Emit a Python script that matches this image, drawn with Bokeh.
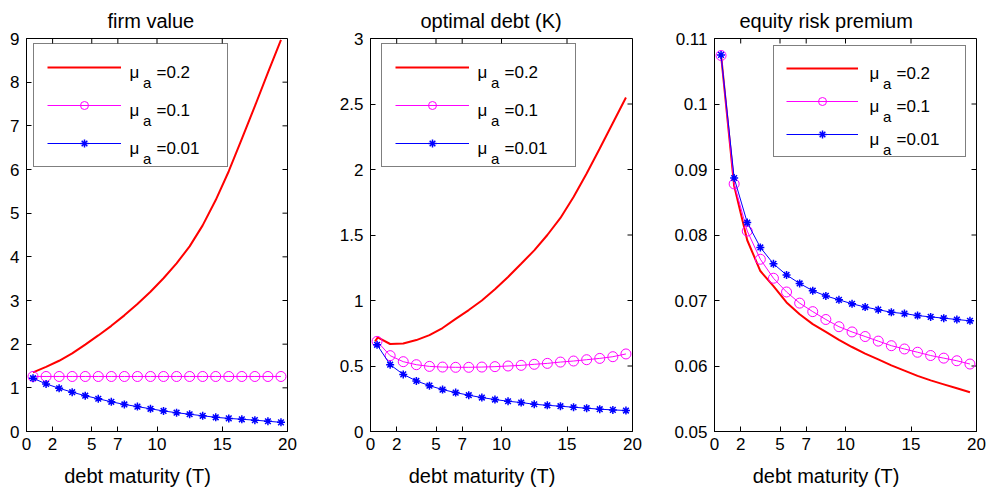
from bokeh.plotting import figure
from bokeh.models import (Range1d, FixedTicker, Legend, LegendItem,
                          NumeralTickFormatter)
from bokeh.layouts import row
from bokeh.core.properties import value
from bokeh.embed import file_html
from bokeh.resources import INLINE

FONT = "Liberation Sans"

# ---------------- data ----------------
T = [0.5, 1.5, 2.5, 3.5, 4.5, 5.5, 6.5, 7.5, 8.5, 9.5,
     10.5, 11.5, 12.5, 13.5, 14.5, 15.5, 16.5, 17.5, 18.5, 19.5]
x_ticks = [0, 2, 5, 7, 10, 15, 20]

# firm value
fv_red = [1.355, 1.48, 1.62, 1.79, 1.99, 2.20, 2.42, 2.66, 2.92, 3.20,
          3.51, 3.85, 4.24, 4.72, 5.30, 5.96, 6.70, 7.45, 8.22, 8.97]
fv_mag = [1.26, 1.26, 1.26, 1.26, 1.26, 1.26, 1.26, 1.26, 1.26, 1.26,
          1.26, 1.26, 1.26, 1.26, 1.26, 1.26, 1.26, 1.26, 1.26, 1.26]
fv_blue = [1.22, 1.09, 0.99, 0.90, 0.82, 0.75, 0.68, 0.62, 0.57, 0.52,
           0.47, 0.43, 0.395, 0.36, 0.325, 0.30, 0.28, 0.26, 0.235, 0.21]
fv_yticks = [0, 1, 2, 3, 4, 5, 6, 7, 8, 9]

# optimal debt (K)
od_red_T = [0.35, 0.55, 1.5, 2.5, 3.5, 4.5, 5.5, 6.5, 7.5, 8.5, 9.5,
            10.5, 11.5, 12.5, 13.5, 14.5, 15.5, 16.5, 17.5, 18.5, 19.5]
od_red = [0.688, 0.718, 0.668, 0.672, 0.698, 0.736, 0.79, 0.86, 0.927, 1.0, 1.086,
          1.18, 1.28, 1.383, 1.50, 1.63, 1.79, 1.97, 2.16, 2.355, 2.55]
od_mag = [0.688, 0.579, 0.533, 0.51, 0.497, 0.492, 0.49, 0.49, 0.492, 0.495,
          0.50, 0.505, 0.513, 0.52, 0.53, 0.538, 0.548, 0.558, 0.571, 0.592]
od_blue = [0.662, 0.51, 0.436, 0.386, 0.35, 0.32, 0.297, 0.277, 0.259, 0.244,
           0.231, 0.221, 0.208, 0.20, 0.193, 0.185, 0.178, 0.17, 0.165, 0.16]
od_yticks = [0, 0.5, 1, 1.5, 2, 2.5, 3]

# equity risk premium
er_red = [0.1075, 0.0875, 0.0792, 0.0745, 0.0722, 0.0697, 0.0679, 0.0664, 0.0652, 0.0640,
          0.0629, 0.0619, 0.0610, 0.0601, 0.0593, 0.0585, 0.0578, 0.0572, 0.0566, 0.0560]
er_mag = [0.1074, 0.0878, 0.0806, 0.0763, 0.0734, 0.0713, 0.0696, 0.0683, 0.0671, 0.0660,
          0.0652, 0.0645, 0.0638, 0.0631, 0.0626, 0.0621, 0.0616, 0.0612, 0.0608, 0.0603]
er_blue = [0.1075, 0.0887, 0.0819, 0.0781, 0.0756, 0.0739, 0.0726, 0.0715, 0.0707, 0.0701,
           0.0695, 0.0690, 0.0686, 0.0682, 0.0680, 0.0677, 0.0675, 0.0673, 0.0671, 0.0669]
er_yticks = [0.05, 0.06, 0.07, 0.08, 0.09, 0.10, 0.11]

legend_names = ["0.2", "0.1", "0.01"]
x_label = "debt maturity (T)"

RED, MAG, BLUE = "#ff0000", "#ff00ff", "#0000ff"
H = 493
TOP, BOTTOM = 37, 62
FH = H - TOP - BOTTOM
NBSP = "\u00a0"
TICK = 5  # inward tick length, px


def style_axis(ax, ticks, standoff):
    ax.ticker = FixedTicker(ticks=ticks)
    ax.axis_line_color = "black"
    ax.axis_line_width = 1
    ax.major_tick_line_color = "black"
    ax.major_tick_in = TICK
    ax.major_tick_out = 0
    ax.minor_tick_line_color = None
    ax.major_label_text_font = FONT
    ax.major_label_text_font_size = "17px"
    ax.major_label_text_color = "black"
    ax.major_label_standoff = standoff


def panel(width, left, right, yr, yticks, title, title_off, red_T, red, mag, blue,
          leg):
    FW = width - left - right
    xr = (0, 20)
    p = figure(width=width, height=H, output_backend="svg", toolbar_location=None,
               x_range=Range1d(*xr), y_range=Range1d(*yr),
               min_border_left=left, min_border_right=right,
               min_border_top=TOP, min_border_bottom=BOTTOM)
    p.outline_line_color = "black"
    p.outline_line_width = 1
    p.xgrid.visible = False
    p.ygrid.visible = False
    p.background_fill_color = "white"
    p.border_fill_color = "white"

    p.title.text = title
    p.title.align = "left"
    p.title.offset = title_off
    p.title.text_font = FONT
    p.title.text_font_size = "20px"
    p.title.text_font_style = "normal"
    p.title.text_color = "black"
    p.title.standoff = 14

    style_axis(p.xaxis[0], x_ticks, 6)
    p.xaxis[0].axis_label = x_label + NBSP * 7
    p.xaxis[0].axis_label_text_font = FONT
    p.xaxis[0].axis_label_text_font_size = "20px"
    p.xaxis[0].axis_label_text_font_style = "normal"
    p.xaxis[0].axis_label_text_color = "black"
    p.xaxis[0].axis_label_standoff = 12
    style_axis(p.yaxis[0], yticks, 7)
    p.yaxis[0].formatter = NumeralTickFormatter(format="0.[00]")

    # inward ticks on the top and right edges of the box (from the tick lists)
    tdy = TICK / FH * (yr[1] - yr[0])
    tdx = TICK / FW * (xr[1] - xr[0])
    p.segment(x0=x_ticks, y0=[yr[1]] * len(x_ticks), x1=x_ticks,
              y1=[yr[1] - tdy] * len(x_ticks), line_color="black", line_width=1)
    p.segment(x0=[xr[1]] * len(yticks), y0=yticks, x1=[xr[1] - tdx] * len(yticks),
              y1=yticks, line_color="black", line_width=1)

    r_red = p.line(red_T, red, line_color=RED, line_width=2)
    r_ml = p.line(T, mag, line_color=MAG, line_width=1)
    r_ms = p.scatter(T, mag, marker="circle", size=10, fill_color=None,
                     line_color=MAG, line_width=1)
    r_bl = p.line(T, blue, line_color=BLUE, line_width=1)
    r_bs = p.scatter(T, blue, marker="asterisk", size=8, line_color=BLUE,
                     line_width=1.5)

    # legend box with glyph samples (transparent so its texts show through)
    lx, ltop, pad, gh, sp, gw, stand, lw = leg
    lh = 2 * pad + 3 * gh + 2 * sp
    legend = Legend(
        items=[LegendItem(label=value(" "), renderers=[r_red]),
               LegendItem(label=value(" "), renderers=[r_ml, r_ms]),
               LegendItem(label=value(" "), renderers=[r_bl, r_bs])],
        location=(lx, FH - ltop - lh), padding=pad, spacing=sp,
        glyph_width=gw, glyph_height=gh, label_standoff=stand,
        label_width=lw, label_height=gh, label_text_font_size="1px",
        border_line_color="black", border_line_width=1,
        background_fill_color="white", background_fill_alpha=0.0, margin=0)
    p.add_layout(legend)

    # legend texts: "mu", subscript "a", "=value"; pixel layout -> data coords
    def dx(px):
        return xr[0] + px / FW * (xr[1] - xr[0])

    def dy(py_from_top):
        return yr[0] + (FH - py_from_top) / FH * (yr[1] - yr[0])

    big_x, big_y, big_t, sub_x, sub_y, sub_t = [], [], [], [], [], []
    for i, name in enumerate(legend_names):
        c = ltop + pad + gh / 2 + i * (gh + sp)
        mx = lx + 96
        big_x += [dx(mx), dx(mx + 27)]
        big_y += [dy(c + 3), dy(c + 3)]
        big_t += ["\u03bc", "=" + name]
        sub_x.append(dx(mx + 13.5))
        sub_y.append(dy(c + 13))
        sub_t.append("a")
    p.text(big_x, big_y, text=big_t, text_font=value(FONT), text_font_size="17px",
           text_baseline="alphabetic", text_align="left", text_color="black")
    p.text(sub_x, sub_y, text=sub_t, text_font=value(FONT), text_font_size="15px",
           text_baseline="alphabetic", text_align="left", text_color="black")
    return p


p1 = panel(300, 26, 13, (0, 9), fv_yticks, "firm value", 81, T,
           fv_red, fv_mag, fv_blue, (7, 8, 13, 20, 18, 74, 8, 85))
p2 = panel(350, 70, 18, (0, 3), od_yticks, "optimal debt (K)", 50, od_red_T,
           od_red, od_mag, od_blue, (11, 8, 13, 20, 18, 74, 8, 85))
p3 = panel(340, 64, 14, (0.05, 0.11), er_yticks, "equity risk premium", 25, T,
           er_red, er_mag, er_blue, (59, 10, 12, 20, 13, 72, 10, 85))

layout = row(p1, p2, p3)
open("out.html", "w").write(file_html(layout, INLINE))
